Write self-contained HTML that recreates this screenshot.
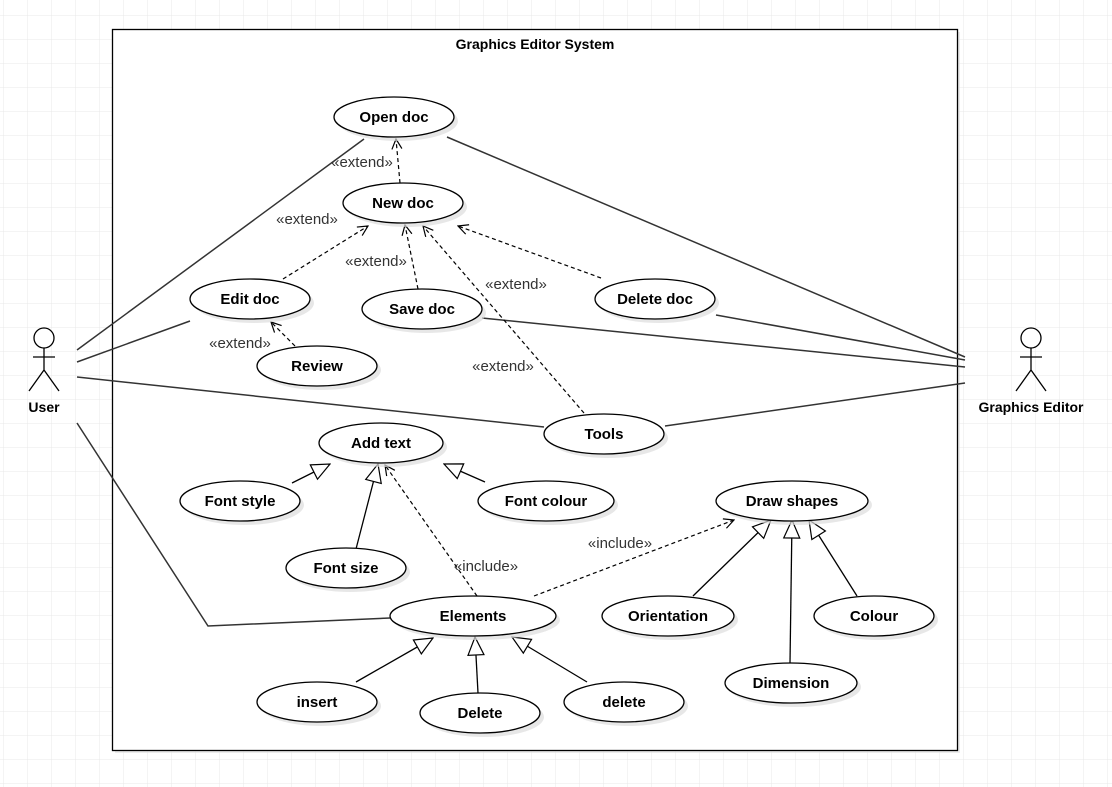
<!DOCTYPE html>
<html><head><style>
html,body{margin:0;padding:0;background:#fff;}
svg{display:block;}
text{font-family:"Liberation Sans",Arial,sans-serif;}
.uc{font-weight:bold;font-size:15px;text-anchor:middle;fill:#000;}
.lb{font-size:15px;fill:#333;text-anchor:middle;}
</style></head><body>
<svg width="1112" height="787" viewBox="0 0 1112 787" xmlns="http://www.w3.org/2000/svg">
<defs>
<pattern id="g" x="3" y="15" width="24" height="24" patternUnits="userSpaceOnUse">
<path d="M0 0H24M0 0V24" stroke="#e8e8e8" stroke-width="1" fill="none"/>
</pattern>
<marker id="op" viewBox="0 0 12 12" refX="11" refY="6" markerWidth="12" markerHeight="12" markerUnits="userSpaceOnUse" orient="auto">
<path d="M1 1L11 6L1 11" fill="none" stroke="#000" stroke-width="1.2"/>
</marker>
<marker id="tr" viewBox="0 0 20 20" refX="19" refY="10" markerWidth="20" markerHeight="20" markerUnits="userSpaceOnUse" orient="auto">
<path d="M1 2L19 10L1 18Z" fill="#fff" stroke="#000" stroke-width="1.2"/>
</marker>
</defs>
<rect width="1112" height="787" fill="url(#g)"/>
<rect x="115" y="32" width="845" height="721" fill="#e0e0e0" opacity="0.6"/>
<rect x="112.5" y="29.5" width="845" height="721" fill="#fff" stroke="#000" stroke-width="1.3"/>
<text x="535" y="49" style="font-weight:bold;font-size:14px;text-anchor:middle">Graphics Editor System</text>

<g stroke="#333" stroke-width="1.5" fill="none">
<line x1="77" y1="350" x2="364" y2="139"/>
<line x1="77" y1="362" x2="190" y2="321"/>
<line x1="77" y1="377" x2="544" y2="427"/>
<polyline points="77,423 208,626 390,618"/>
<line x1="447" y1="137" x2="965" y2="357"/>
<line x1="716" y1="315" x2="965" y2="360"/>
<line x1="482" y1="318" x2="965" y2="367"/>
<line x1="665" y1="426" x2="965" y2="383"/>
</g>
<g stroke="#000" stroke-width="1.2" fill="none" stroke-dasharray="4,3">
<line x1="400" y1="183" x2="396" y2="139" marker-end="url(#op)"/>
<line x1="283" y1="279" x2="368" y2="226" marker-end="url(#op)"/>
<line x1="418" y1="289" x2="405" y2="225" marker-end="url(#op)"/>
<line x1="601" y1="278" x2="458" y2="226" marker-end="url(#op)"/>
<line x1="584" y1="413" x2="423" y2="226" marker-end="url(#op)"/>
<line x1="295" y1="346" x2="271" y2="322" marker-end="url(#op)"/>
<line x1="477" y1="596" x2="385" y2="465" marker-end="url(#op)"/>
<line x1="534" y1="596" x2="734" y2="520" marker-end="url(#op)"/>
</g>
<g stroke="#000" stroke-width="1.3" fill="none">
<line x1="292" y1="483" x2="330" y2="464" marker-end="url(#tr)"/>
<line x1="356" y1="549" x2="378" y2="464" marker-end="url(#tr)"/>
<line x1="485" y1="482" x2="444" y2="464" marker-end="url(#tr)"/>
<line x1="356" y1="682" x2="433" y2="638" marker-end="url(#tr)"/>
<line x1="478" y1="693" x2="475" y2="637" marker-end="url(#tr)"/>
<line x1="587" y1="682" x2="512" y2="637" marker-end="url(#tr)"/>
<line x1="693" y1="596" x2="771" y2="520" marker-end="url(#tr)"/>
<line x1="790" y1="663" x2="792" y2="520" marker-end="url(#tr)"/>
<line x1="857" y1="596" x2="809" y2="520" marker-end="url(#tr)"/>
</g>
<g class="lb">
<text x="362" y="167">«extend»</text>
<text x="307" y="224">«extend»</text>
<text x="376" y="266">«extend»</text>
<text x="516" y="289">«extend»</text>
<text x="503" y="371">«extend»</text>
<text x="240" y="348">«extend»</text>
<text x="486" y="571">«include»</text>
<text x="620" y="548">«include»</text>
</g>

<g fill="#ddd" opacity="0.7">
<ellipse cx="398" cy="121" rx="60" ry="20"/><ellipse cx="407" cy="207" rx="60" ry="20"/>
<ellipse cx="254" cy="303" rx="60" ry="20"/><ellipse cx="426" cy="313" rx="60" ry="20"/>
<ellipse cx="659" cy="303" rx="60" ry="20"/><ellipse cx="321" cy="370" rx="60" ry="20"/>
<ellipse cx="608" cy="438" rx="60" ry="20"/><ellipse cx="385" cy="447" rx="62" ry="20"/>
<ellipse cx="244" cy="505" rx="60" ry="20"/><ellipse cx="550" cy="505" rx="68" ry="20"/>
<ellipse cx="350" cy="572" rx="60" ry="20"/><ellipse cx="477" cy="620" rx="83" ry="20"/>
<ellipse cx="796" cy="505" rx="76" ry="20"/><ellipse cx="672" cy="620" rx="66" ry="20"/>
<ellipse cx="878" cy="620" rx="60" ry="20"/><ellipse cx="795" cy="687" rx="66" ry="20"/>
<ellipse cx="321" cy="706" rx="60" ry="20"/><ellipse cx="484" cy="717" rx="60" ry="20"/>
<ellipse cx="628" cy="706" rx="60" ry="20"/>
</g>
<g fill="#fff" stroke="#000" stroke-width="1.3">
<ellipse cx="394" cy="117" rx="60" ry="20"/><ellipse cx="403" cy="203" rx="60" ry="20"/>
<ellipse cx="250" cy="299" rx="60" ry="20"/><ellipse cx="422" cy="309" rx="60" ry="20"/>
<ellipse cx="655" cy="299" rx="60" ry="20"/><ellipse cx="317" cy="366" rx="60" ry="20"/>
<ellipse cx="604" cy="434" rx="60" ry="20"/><ellipse cx="381" cy="443" rx="62" ry="20"/>
<ellipse cx="240" cy="501" rx="60" ry="20"/><ellipse cx="546" cy="501" rx="68" ry="20"/>
<ellipse cx="346" cy="568" rx="60" ry="20"/><ellipse cx="473" cy="616" rx="83" ry="20"/>
<ellipse cx="792" cy="501" rx="76" ry="20"/><ellipse cx="668" cy="616" rx="66" ry="20"/>
<ellipse cx="874" cy="616" rx="60" ry="20"/><ellipse cx="791" cy="683" rx="66" ry="20"/>
<ellipse cx="317" cy="702" rx="60" ry="20"/><ellipse cx="480" cy="713" rx="60" ry="20"/>
<ellipse cx="624" cy="702" rx="60" ry="20"/>
</g>
<g class="uc">
<text x="394" y="122">Open doc</text><text x="403" y="208">New doc</text>
<text x="250" y="304">Edit doc</text><text x="422" y="314">Save doc</text>
<text x="655" y="304">Delete doc</text><text x="317" y="371">Review</text>
<text x="604" y="439">Tools</text><text x="381" y="448">Add text</text>
<text x="240" y="506">Font style</text><text x="546" y="506">Font colour</text>
<text x="346" y="573">Font size</text><text x="473" y="621">Elements</text>
<text x="792" y="506">Draw shapes</text><text x="668" y="621">Orientation</text>
<text x="874" y="621">Colour</text><text x="791" y="688">Dimension</text>
<text x="317" y="707">insert</text><text x="480" y="718">Delete</text>
<text x="624" y="707">delete</text>
</g>

<g stroke="#000" stroke-width="1.3" fill="#fff">
<circle cx="44" cy="338" r="10"/>
<path d="M44 348V370M33 357H55M29 391L44 370L59 391" fill="none"/>
<circle cx="1031" cy="338" r="10"/>
<path d="M1031 348V370M1020 357H1042M1016 391L1031 370L1046 391" fill="none"/>
</g>
<text x="44" y="412" class="uc" style="font-size:14px">User</text>
<text x="1031" y="412" class="uc" style="font-size:14px">Graphics Editor</text>
</svg>
</body></html>
